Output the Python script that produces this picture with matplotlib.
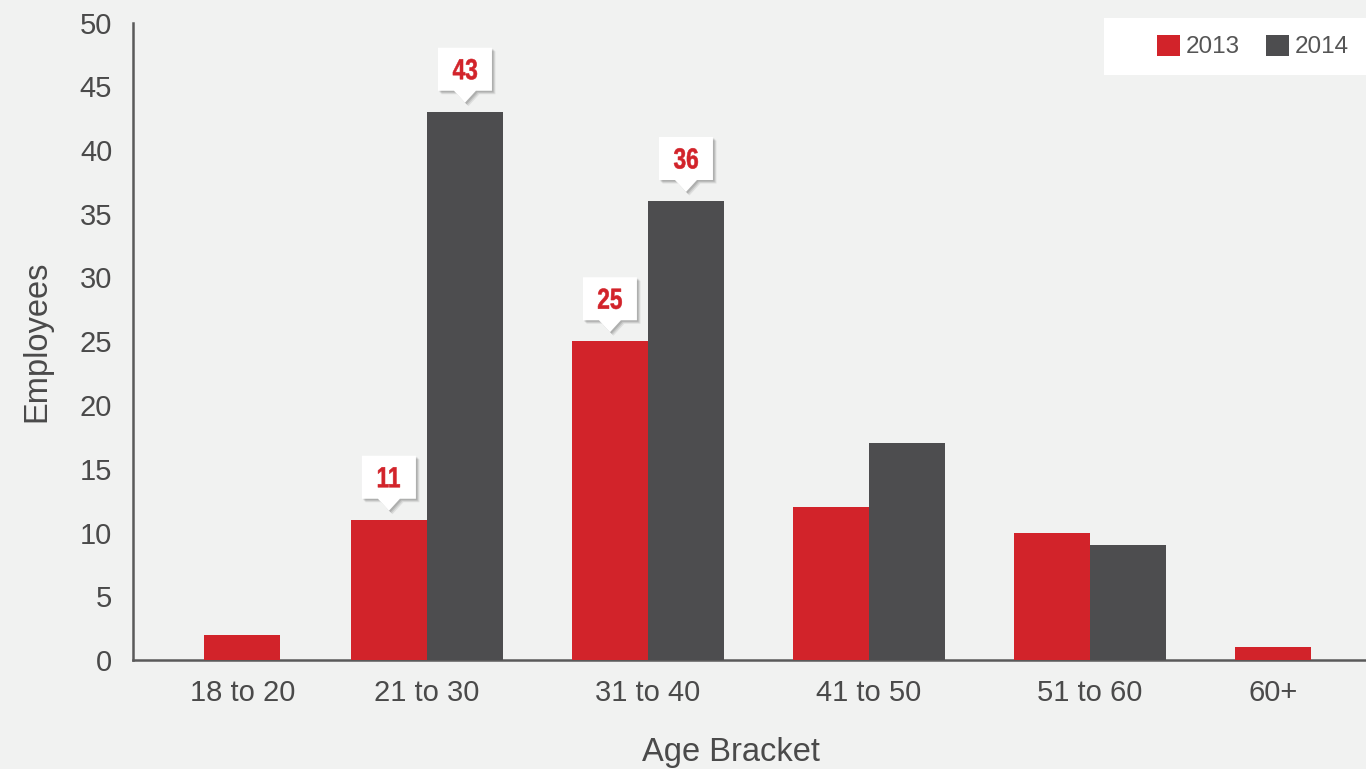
import matplotlib
matplotlib.use('Agg')
import matplotlib.pyplot as plt
import matplotlib.transforms as mtransforms
from matplotlib.patches import Polygon, PathPatch, Rectangle
from matplotlib.textpath import TextPath
from matplotlib.font_manager import FontProperties

categories = ['18 to 20', '21 to 30', '31 to 40', '41 to 50', '51 to 60', '60+']
emp_2013 = [2, 11, 25, 12, 10, 1]
emp_2014 = [0, 43, 36, 17, 9, 0]
callouts_2013 = [False, True, True, False, False, False]
callouts_2014 = [False, True, True, False, False, False]

# group centres (single-bar groups sit on their tick)
group_x = [0.165, 1, 2, 3, 4, 4.83]
width = 0.344

red = '#d2232a'
grey = '#4d4d4f'
bg = '#f1f2f1'
txt = '#4a4a4a'

plt.rcParams['font.family'] = ['Liberation Sans', 'DejaVu Sans']

fig = plt.figure(figsize=(13.66, 7.69), dpi=100, facecolor=bg)
ax = fig.add_axes([133/1366, 109/769, 1 - 133/1366, 637.5/769])
ax.set_facecolor(bg)

bold = FontProperties(family='Liberation Sans', weight='bold')


def callout(x, y):
    # white speech box with a downward pointer, sized in pixels
    trans = fig.dpi_scale_trans + mtransforms.ScaledTranslation(x, y, ax.transData)
    w, h, ph, pw, gap = 27, 43, 12, 11, 9
    pts = [(-w, gap + ph), (-pw, gap + ph), (0, gap), (pw, gap + ph), (w, gap + ph),
           (w, gap + ph + h), (-w, gap + ph + h)]
    pts = [(px / 100, py / 100) for px, py in pts]
    for k, a in [(0.035, 0.08), (0.025, 0.1), (0.015, 0.12)]:
        sh = [(px + k, py - k) for px, py in pts]
        ax.add_patch(Polygon(sh, closed=True, transform=trans, facecolor='#000000',
                             alpha=a, edgecolor='none', clip_on=False, zorder=4))
    ax.add_patch(Polygon(pts, closed=True, transform=trans, facecolor='white',
                         edgecolor='none', clip_on=False, zorder=5))
    # condensed bold number: squeeze a text path horizontally
    tp = TextPath((0, 0), str(y), size=29, prop=bold)
    ext = tp.get_extents()
    cx = (ext.x0 + ext.x1) / 2
    cy = (ext.y0 + ext.y1) / 2
    sq = (mtransforms.Affine2D().translate(-cx, -cy).scale(0.78 / 100, 1 / 100)
          .translate(0, (gap + ph + h / 2) / 100))
    ax.add_patch(PathPatch(tp, transform=sq + trans, facecolor=red, edgecolor=red,
                           linewidth=0.4, clip_on=False, zorder=6))


for i, gx in enumerate(group_x):
    a, b = emp_2013[i], emp_2014[i]
    if a and b:
        xa, xb = gx - width / 2, gx + width / 2
    else:
        xa = xb = gx
    if a:
        ax.bar(xa, a, width, color=red, zorder=3, label='2013' if i == 0 else None)
        if callouts_2013[i]:
            callout(xa, a)
    if b:
        ax.bar(xb, b, width, color=grey, zorder=3, label='2014' if i == 1 else None)
        if callouts_2014[i]:
            callout(xb, b)

ax.set_xlim(-0.33, 5.249)
ax.set_ylim(0, 50)
ax.set_yticks(range(0, 51, 5))
ax.set_xticks(group_x)
ax.set_xticklabels(categories)
ax.tick_params(axis='both', length=0, labelsize=21, colors=txt)
ax.tick_params(axis='y', pad=15)
ax.tick_params(axis='x', pad=14)

for s in ['top', 'right']:
    ax.spines[s].set_visible(False)
for s in ['left', 'bottom']:
    ax.spines[s].set_color('#5a5a5a')
    ax.spines[s].set_linewidth(1.8)

ax.set_ylabel('Employees', fontsize=23.5, color=txt, labelpad=20)
ax.set_xlabel('Age Bracket', fontsize=23.5, color=txt, labelpad=21)
ax.xaxis.label.set_x(0.485)

# white legend panel in the top-right corner
ax.add_patch(Rectangle((1104/1366, (769 - 75)/769), 262/1366, 57/769,
                       transform=fig.transFigure, facecolor='white',
                       edgecolor='none', clip_on=False, zorder=4))
leg = ax.legend(loc='center left', bbox_to_anchor=(1157/1366, (769 - 46.5)/769),
                bbox_transform=fig.transFigure, ncol=2, frameon=False, fontsize=17.5,
                handlelength=0.95, handleheight=0.95, handletextpad=0.25,
                columnspacing=1.05, borderpad=0, borderaxespad=0)
leg.set_zorder(10)
for t in leg.get_texts():
    t.set_color('#555555')

fig.savefig('out.png', dpi=100, facecolor=bg)
